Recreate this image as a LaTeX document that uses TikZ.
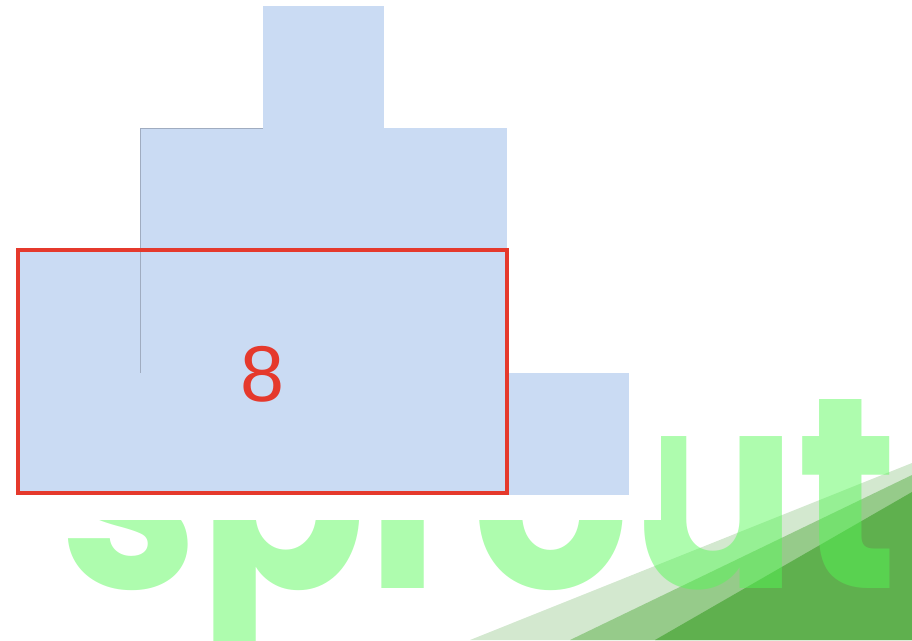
\documentclass[tikz,border=0pt]{standalone}
\usepackage{fontspec}
\usepackage{tikz}
\newfontfamily\labelFont{Liberation Sans}
\newfontfamily\sproutFont{Poppins}
\definecolor{barColor}{RGB}{202, 219, 243}
\definecolor{markColor}{RGB}{229, 57, 44}
\definecolor{sproutColor}{RGB}{83, 249, 83}
\definecolor{bandLight}{RGB}{211, 232, 207}
\definecolor{bandMid}{RGB}{150, 203, 138}
\definecolor{bandDark}{RGB}{95, 176, 78}
\definecolor{edgeGray}{RGB}{160, 172, 192}

\begin{document}
\begin{tikzpicture}[x=0.02cm, y=-0.02cm]
	\useasboundingbox (0,0) rectangle (912,640);
	
	% Green corner bands
	\fill[bandLight] (470,640) -- (912,463) -- (912,640) -- cycle;
	\fill[bandMid] (570,640) -- (912,475) -- (912,640) -- cycle;
	\fill[bandDark] (655,640) -- (912,492) -- (912,640) -- cycle;
	
	% Watermark
	\node[anchor=base west, inner sep=0pt, xscale=0.91, text=sproutColor, opacity=0.47, font=\sproutFont\bfseries\fontsize{155}{155}\selectfont] (sprout) at (60,588) {sprout};
	
	% White backdrop of the chart
	\fill[white] (0,0) rectangle (661,520);
	
	% Bars
	\fill[barColor] (263,6) rectangle (384,128);
	\fill[barColor] (140,128) rectangle (507,373);
	\fill[barColor] (18,250) rectangle (507,495);
	\fill[barColor] (507,373) rectangle (629,495);
	\draw[edgeGray, very thin] (263,128) -- (140,128) -- (140,373);
	
	% Marked block with its count
	\draw[markColor, line width=2.2pt] (18,250) rectangle (507,493);
	\node[text=markColor, font=\labelFont\fontsize{45}{45}\selectfont] (count) at (262,374) {8};
\end{tikzpicture}
\end{document}
